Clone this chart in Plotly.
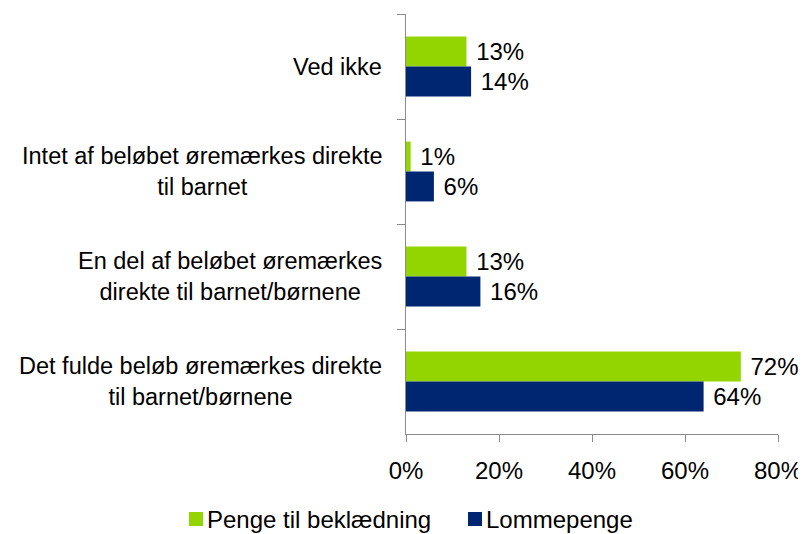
import plotly.graph_objects as go

categories = [
    "Ved ikke",
    "Intet af beløbet øremærkes direkte<br>til barnet",
    "En del af beløbet øremærkes<br>direkte til barnet/børnene",
    "Det fulde beløb øremærkes direkte<br>til barnet/børnene",
]
series_names = ["Penge til beklædning", "Lommepenge"]
penge_til_beklaedning = [13, 1, 13, 72]
lommepenge = [14, 6, 16, 64]
x_ticks = [0, 20, 40, 60, 80]

colors = ["#93D500", "#002672"]
FONT = "Liberation Sans, Arial, sans-serif"
AXIS = "#8c8c8c"

# page offset introduced by the default body margin of the html page
OFF = 8
W, H = 806 - OFF, 534 - OFF
L, T = 406 - OFF, 14 - OFF
PW, PH = 372, 420
R, B = W - L - PW, H - T - PH


def px_x(p):
    return (p - OFF - L) / PW


def px_y(p):
    return (T + PH - (p - OFF)) / PH


fig = go.Figure()
for name, vals, col in zip(series_names, [penge_til_beklaedning, lommepenge], colors):
    fig.add_trace(go.Bar(
        y=categories, x=vals, name=name, orientation="h",
        marker=dict(color=col, line=dict(width=0)),
        text=[f" {v}%" for v in vals], textposition="outside",
        textfont=dict(family=FONT, size=24, color="#000000"),
        cliponaxis=False, constraintext="none", showlegend=False,
    ))

for c in categories:
    fig.add_annotation(
        x=0, xref="paper", y=c, yref="y", text=c, showarrow=False,
        xanchor="right", yanchor="middle", align="center", xshift=-22,
        font=dict(family=FONT, size=23.5, color="#000000"),
    )

# manual legend in one row below the chart
legend_x = [189, 468]
legend_y = 519
for name, col, lx in zip(series_names, colors, legend_x):
    fig.add_shape(
        type="rect", xref="paper", yref="paper",
        x0=px_x(lx), x1=px_x(lx + 14), y0=px_y(legend_y + 7), y1=px_y(legend_y - 7),
        fillcolor=col, line=dict(width=0),
    )
    fig.add_annotation(
        x=px_x(lx + 16), xref="paper", y=px_y(legend_y), yref="paper",
        text=name, showarrow=False, xanchor="left", yanchor="middle",
        font=dict(family=FONT, size=24, color="#000000"),
    )

fig.update_layout(
    width=W, height=H,
    margin=dict(l=L, r=R, t=T, b=B),
    paper_bgcolor="white", plot_bgcolor="white",
    barmode="group", bargap=0.43, bargroupgap=0,
    font=dict(family=FONT, size=24, color="#000000"),
    showlegend=False,
    xaxis=dict(
        range=[0, 80], tickvals=x_ticks, ticktext=[f"{t}%" for t in x_ticks],
        showgrid=False, zeroline=False, showline=True, linecolor=AXIS, linewidth=1,
        ticks="outside", ticklen=7, tickcolor=AXIS, ticklabelstandoff=8,
        tickfont=dict(family=FONT, size=24, color="#000000"), automargin=False,
    ),
    yaxis=dict(
        autorange="reversed", showticklabels=False, showgrid=False, zeroline=False,
        showline=True, linecolor=AXIS, linewidth=1, automargin=False,
        ticks="outside", tickson="boundaries", ticklen=8, tickcolor=AXIS,
    ),
)

fig.write_html("out.html")
